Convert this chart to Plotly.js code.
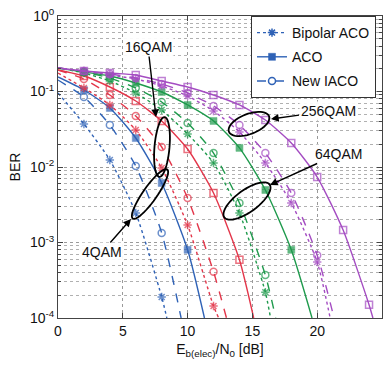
<!DOCTYPE html>
<html>
<head>
<meta charset="utf-8">
<script src="https://cdn.plot.ly/plotly-3.0.1.min.js"></script>
<style>
html,body{margin:0;padding:0;background:#fff;}
#chart{width:386px;height:369px;}
</style>
</head>
<body>
<div id="chart"></div>
<script>
// ---- data (Eb(elec)/N0 in dB, BER) ----
// 4QAM
const ebBip4   = [0,2,4,6,8,8.4];
const berBip4  = [0.0955,0.0371,0.0124,0.00246,0.00019,1e-4];
const ebAco4   = [0,2,4,6,8,10,11.3];
const berAco4  = [0.1556,0.1047,0.0605,0.0242,0.00614,0.00080,1e-4];
const ebIaco4  = [0,2,4,6,8,9.5];
const berIaco4 = [0.142,0.0846,0.0360,0.0103,0.00134,1e-4];
// 16QAM
const ebBip16   = [0,2,4,6,8,10,12,12.4];
const berBip16  = [0.1758,0.1113,0.0663,0.0309,0.0097,0.00170,0.000144,1e-4];
const ebAco16   = [0,2,4,6,8,10,12,14,15.1];
const berAco16  = [0.1927,0.1604,0.1147,0.0748,0.0407,0.0173,0.00452,0.00059,1e-4];
const ebIaco16  = [0,2,4,6,8,10,12,13.0];
const berIaco16 = [0.1927,0.1464,0.0899,0.0474,0.0184,0.00389,0.00041,1e-4];
// 64QAM
const ebBip64   = [0,2,4,6,8,10,12,14,16,16.4];
const berBip64  = [0.2048,0.1758,0.1377,0.0955,0.0569,0.0274,0.0113,0.00246,0.00022,1e-4];
const ebAco64   = [0,2,4,6,8,10,12,14,16,18,19.6];
const berAco64  = [0.2048,0.1813,0.1604,0.1296,0.0985,0.0663,0.0407,0.0179,0.00496,0.00080,1e-4];
const ebIaco64  = [0,2,4,6,8,10,12,14,16,16.8];
const berIaco64 = [0.2048,0.1813,0.1509,0.1113,0.0726,0.0383,0.0153,0.00334,0.00037,1e-4];
// 256QAM
const ebBip256   = [0,2,4,6,8,10,12,14,16,18,20,21.0];
const berBip256  = [0.2048,0.1868,0.1654,0.1464,0.1183,0.0872,0.0552,0.0291,0.0113,0.00334,0.00055,1e-4];
const ebAco256   = [0,2,4,6,8,10,12,14,16,18,20,22,24,24.3];
const berAco256  = [0.2048,0.1868,0.1758,0.1654,0.1377,0.1147,0.0899,0.0663,0.0419,0.0208,0.00737,0.00146,0.00015,1e-4];
const ebIaco256  = [0,2,4,6,8,10,12,14,16,18,20,21.3];
const berIaco256 = [0.2048,0.1868,0.1705,0.1509,0.1257,0.0955,0.0643,0.0360,0.0153,0.00452,0.00068,1e-4];

const schemeNames = ['Bipolar ACO','ACO','New IACO'];
const modLabels = ['4QAM','16QAM','64QAM','256QAM'];
const yTickVals = [1e-4,1e-3,1e-2,1e-1,1];
const yTickText = ['10<sup>-4</sup>','10<sup>-3</sup>','10<sup>-2</sup>','10<sup>-1</sup>','10<sup>0</sup>'];

// ---- styling ----
const COLORS = {q4:'#2f62b6', q16:'#e3364a', q64:'#1e9a4c', q256:'#a44cc2'};
const STYLE = {
  bip:  {dash:'dot',   symbol:'asterisk-open'},
  aco:  {dash:'solid', symbol:'square'},
  iaco: {dash:'dash',  symbol:'circle-open'}
};

function sizes(ebs){
  return ebs.map((e,i)=> (i>0 && i<ebs.length-1 && Math.abs(e%2)<1e-9) ? 7 : 0);
}
function series(ebs, bers, color, sty, openSquare){
  const symbol = sty.symbol==='square' && openSquare ? 'square-open' : sty.symbol;
  return {
    x: ebs, y: bers, type:'scatter', mode:'lines+markers', showlegend:false,
    line:{color:color, width:1.4, dash:sty.dash, shape:'spline', smoothing:0.6},
    marker:{symbol:symbol, size:sizes(ebs), color:color,
            line:{color:color, width: symbol==='square' ? 0.5 : 1.5}},
    hoverinfo:'skip', cliponaxis:true
  };
}

const traces = [
  series(ebBip4, berBip4, COLORS.q4, STYLE.bip),
  series(ebAco4, berAco4, COLORS.q4, STYLE.aco, false),
  series(ebIaco4, berIaco4, COLORS.q4, STYLE.iaco),
  series(ebBip16, berBip16, COLORS.q16, STYLE.bip),
  series(ebAco16, berAco16, COLORS.q16, STYLE.aco, true),
  series(ebIaco16, berIaco16, COLORS.q16, STYLE.iaco),
  series(ebBip64, berBip64, COLORS.q64, STYLE.bip),
  series(ebAco64, berAco64, COLORS.q64, STYLE.aco, false),
  series(ebIaco64, berIaco64, COLORS.q64, STYLE.iaco),
  series(ebBip256, berBip256, COLORS.q256, STYLE.bip),
  series(ebAco256, berAco256, COLORS.q256, STYLE.aco, true),
  series(ebIaco256, berIaco256, COLORS.q256, STYLE.iaco)
];
// legend entries
[STYLE.bip, STYLE.aco, STYLE.iaco].forEach((s,i)=>{
  traces.push({x:[null], y:[null], type:'scatter', mode:'lines+markers', name:schemeNames[i],
    legendgroup:'g'+i,
    line:{color:COLORS.q4, width:1.4, dash:s.dash},
    marker:{symbol:s.symbol, size:7, color:COLORS.q4, line:{color:COLORS.q4, width:s.symbol==='square'?0.5:1.5}}});
});

// ---- plot box geometry (pixels) ----
const L=58, T=16, W=324, H=302;
const px = x => (x-L)/W;
const py = y => (T+H-y)/H;

function ellipse(cx, cy, a, b, angDeg){
  const t = angDeg*Math.PI/180, pts=[];
  for(let k=0;k<=48;k++){
    const u = 2*Math.PI*k/48;
    const ex = a*Math.cos(u), ey = b*Math.sin(u);
    const X = cx + ex*Math.cos(t) - ey*Math.sin(t);
    const Y = cy + ex*Math.sin(t) + ey*Math.cos(t);
    pts.push((k?'L':'M')+px(X).toFixed(4)+','+py(Y).toFixed(4));
  }
  return {type:'path', xref:'paper', yref:'paper', path:pts.join(' ')+' Z',
          line:{color:'#000', width:1.8}};
}
const shapes = [
  ellipse(162,147,30,7.5,-85),   // 16QAM
  ellipse(150,194,30,7,-55),     // 4QAM
  ellipse(249,124,21.5,10,-21),  // 256QAM
  ellipse(247,201,28,11,-36)     // 64QAM
];

// label centred at (tx,ty), arrow pointing to (hx,hy)
function labelArrow(t, tx, ty, hx, hy){
  return {x:px(hx), y:py(hy), xref:'paper', yref:'paper', text:t, showarrow:true,
          ax:tx-hx, ay:ty-hy, arrowhead:2, arrowsize:1.1, arrowwidth:1.4, arrowcolor:'#000', standoff:0,
          font:{size:14, color:'#111'}, bgcolor:'rgba(255,255,255,0.92)', borderpad:1};
}
const annotations = [
  labelArrow(modLabels[1], 148, 47, 156, 117),
  labelArrow(modLabels[0], 102, 252, 131, 219),
  labelArrow(modLabels[3], 328, 111, 271, 119),
  labelArrow(modLabels[2], 338, 154, 270, 185)
];

const minorVals=[];
for(let d=-4; d<0; d++) for(let m=2;m<=9;m++) minorVals.push(m*Math.pow(10,d));

const layout = {
  width:386, height:369,
  margin:{l:L, r:386-L-W, t:T, b:369-T-H},
  paper_bgcolor:'#fff', plot_bgcolor:'#fff',
  font:{family:'"Liberation Sans", Arial, sans-serif', size:14, color:'#111'},
  xaxis:{range:[0,25], dtick:5, tick0:0, ticks:'inside', ticklen:5, tickcolor:'#444',
    showline:true, mirror:'ticks', linecolor:'#444', linewidth:1,
    showgrid:true, gridcolor:'#9a9a9a', griddash:'dot', gridwidth:1, zeroline:false,
    tickfont:{size:14},
    title:{text:'E<sub>b(elec)</sub>/N<sub>0</sub> [dB]', font:{size:14}, standoff:6}},
  yaxis:{type:'log', range:[-4,0], tickmode:'array', tickvals:yTickVals, ticktext:yTickText,
    ticks:'inside', ticklen:5, tickcolor:'#444',
    showline:true, mirror:'ticks', linecolor:'#444', linewidth:1,
    showgrid:true, gridcolor:'#9a9a9a', griddash:'dot', gridwidth:1, zeroline:false,
    minor:{tickmode:'array', tickvals:minorVals, showgrid:true, gridcolor:'#b0b0b0', griddash:'dot', ticks:'inside', ticklen:3, tickcolor:'#444'},
    tickfont:{size:14},
    title:{text:'BER', font:{size:14}, standoff:6}},
  legend:{x:px(376), y:1, xanchor:'right', yanchor:'top', bgcolor:'#fff',
    bordercolor:'#333', borderwidth:1, font:{size:14}, itemwidth:30,
    traceorder:'grouped', tracegroupgap:3},
  shapes:shapes, annotations:annotations, showlegend:true
};

Plotly.newPlot('chart', traces, layout, {staticPlot:true, displayModeBar:false});
</script>
</body>
</html>
